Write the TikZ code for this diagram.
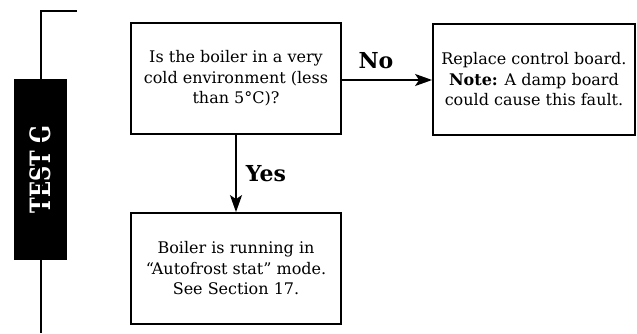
\documentclass[tikz,border=0pt]{standalone}
\usepackage{fontspec}
\setmainfont{DejaVu Serif}
\usetikzlibrary{arrows.meta}
\begin{document}
\begin{tikzpicture}[x=1pt,y=-1pt,
  boxnode/.style={draw=black, line width=1.8pt, rectangle, align=center,
    inner sep=0pt, font=\fontsize{16}{20.5}\selectfont},
  lbl/.style={font=\fontsize{22}{24}\selectfont\bfseries, inner sep=0pt},
  conn/.style={line width=1.8pt, -{Stealth[length=17pt,width=12pt,inset=4pt]}},
  rail/.style={line width=2pt}]
\useasboundingbox (0,0) rectangle (637,333);
% side rail
\node[fill=black, minimum width=181pt, minimum height=53pt, inner sep=0pt,
  text=white, rotate=90] (testg) at (40.5,169.5)
  {\scalebox{1.05}[1.4]{\fontsize{20}{22}\selectfont\bfseries TEST G}};
\coordinate (railtop) at (77,11);
\coordinate (railcorner) at (40.5,11);
\coordinate (railend) at (40.5,333);
\draw[rail] (railtop) -- (railcorner) -- (testg.west);
\draw[rail] (testg.east) -- (railend);
% boxes
\node[boxnode, minimum width=210pt, minimum height=111pt] (q) at (236,78.5)
  {Is the boiler in a very\\cold environment (less\\than 5°C)?};
\node[boxnode, minimum width=202pt, minimum height=111pt] (r) at (534,79.5)
  {Replace control board.\\\textbf{Note:} A damp board\\could cause this fault.};
\node[boxnode, minimum width=210pt, minimum height=111pt] (a) at (236,268.5)
  {Boiler is running in\\“Autofrost stat” mode.\\See Section 17.};
% connectors
\draw[conn] (q.east |- 0,80) -- (r.west |- 0,80);
\draw[conn] (q.south) -- (a.north);
\node[lbl] (no) at (376,61) {No};
\node[lbl] (yes) at (266,174) {Yes};
\end{tikzpicture}
\end{document}
